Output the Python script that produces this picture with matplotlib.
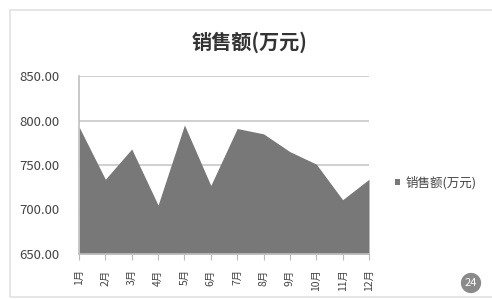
import matplotlib.pyplot as plt
from matplotlib.patches import Rectangle

plt.rcParams['font.family'] = ['Noto Sans CJK SC', 'DejaVu Sans']

# data
months = ["1月", "2月", "3月", "4月", "5月", "6月", "7月", "8月", "9月", "10月", "11月", "12月"]
sales = [793, 734, 768, 705, 795, 727, 791, 785, 765, 751, 711, 734]
y_ticks = [650, 700, 750, 800, 850]

fig = plt.figure(figsize=(4.92, 2.99), dpi=100)
fig.patch.set_facecolor("white")

# light frame around the chart area
fig.patches.append(Rectangle((10 / 492, 2 / 299), 490 / 492, 287 / 299,
                             transform=fig.transFigure, fill=False,
                             edgecolor="#e2e2e2", linewidth=1.2))

ax = fig.add_axes([79 / 492, 45 / 299, 290 / 492, 178 / 299])
x = list(range(len(months)))
ax.fill_between(x, 650, sales, color="#787878", linewidth=0, label="销售额(万元)", zorder=2)

ax.set_xlim(0, len(months) - 1)
ax.set_ylim(650, 850)
ax.set_yticks(y_ticks)
ax.set_yticklabels([f"{v:.2f}" for v in y_ticks], fontsize=9.5, color="#444444")
ax.set_xticks(x)
ax.set_xticklabels(months, rotation=90, fontsize=7.5, color="#444444")
ax.tick_params(axis="y", length=0, pad=14)
ax.tick_params(axis="x", length=4, color="#bbbbbb", pad=7)
ax.grid(axis="y", color="#c8c8c8", linewidth=1.2, zorder=1)
for side in ["top", "right"]:
    ax.spines[side].set_visible(False)
ax.spines["left"].set_color("#c0c0c0")
ax.spines["bottom"].set_color("#c0c0c0")
ax.spines["left"].set_linewidth(1.2)
ax.spines["bottom"].set_linewidth(1.2)

fig.text(250 / 492, 1 - 42 / 299, "销售额(万元)", ha="center", va="center",
         fontsize=14.5, fontweight="bold", color="#333333")

ax.legend(loc="center left", bbox_to_anchor=(1.05, 0.4), frameon=False,
          fontsize=9, handlelength=0.45, handleheight=0.45, handletextpad=0.4,
          labelcolor="#444444")

# page number badge
fig.text(471 / 492, 1 - 283 / 299, "24", ha="center", va="center", fontsize=8,
         color="white", bbox=dict(boxstyle="circle,pad=0.35", facecolor="#8a8a8a",
                                  edgecolor="none"))

fig.savefig("out.png", dpi=100)
